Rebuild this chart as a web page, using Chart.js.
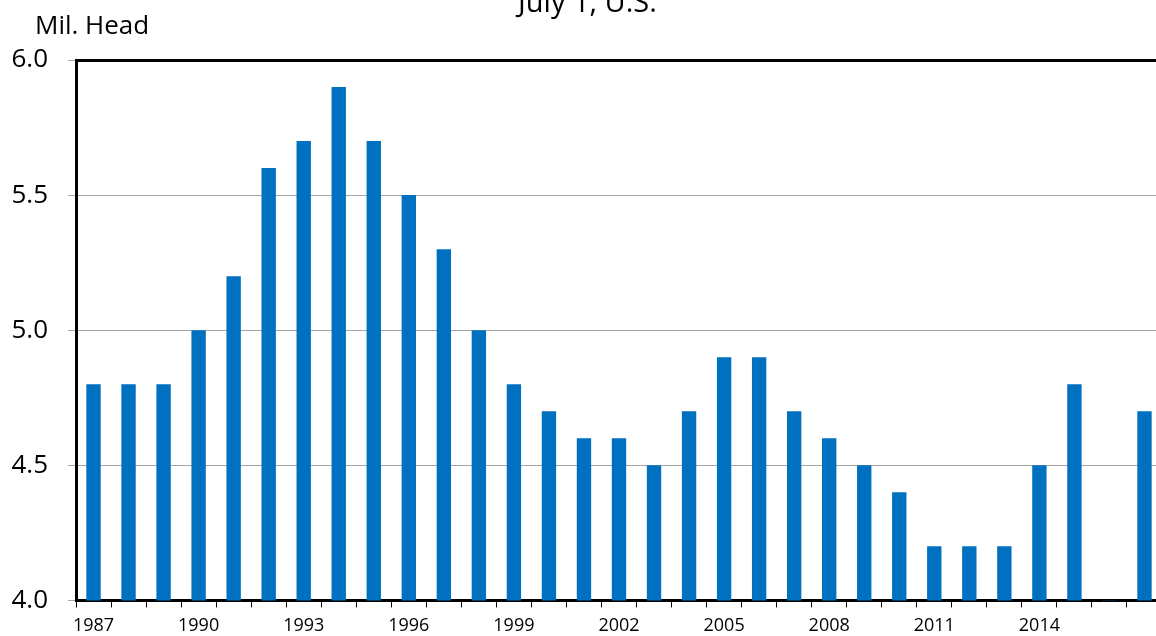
<!DOCTYPE html>
<html>
<head>
<meta charset="utf-8">
<script src="https://cdn.jsdelivr.net/npm/chart.js@4/dist/chart.umd.min.js"></script>
<style>
    html, body { margin: 0; padding: 0; background: #fff; overflow: hidden; }
    #wrap { position: relative; width: 1156px; height: 636px; overflow: hidden; }
    #box { position: absolute; left: 0; top: 0; width: 1172px; height: 636px; }
    .txt { position: absolute; font-family: 'Open Sans', sans-serif; color: #000; white-space: nowrap; line-height: normal; }
    #title { top: -19px; left: 518px; font-size: 29px; }
    #unit { top: 6px; left: 35px; font-size: 26px; }
</style>
</head>
<body>
<div id="wrap">
    <div id="box"><canvas id="chart"></canvas></div>
    <div class="txt" id="title">July 1, U.S.</div>
    <div class="txt" id="unit">Mil. Head</div>
</div>
<script>
// 연도 (1987 ~ 2017)
var years = ['1987','1988','1989','1990','1991','1992','1993','1994','1995','1996',
             '1997','1998','1999','2000','2001','2002','2003','2004','2005','2006',
             '2007','2008','2009','2010','2011','2012','2013','2014','2015','2016','2017'];

// 두수 (백만 두), 2016 은 그림에 막대 없음
var headCount = [4.8, 4.8, 4.8, 5.0, 5.2, 5.6, 5.7, 5.9, 5.7, 5.5,
                 5.3, 5.0, 4.8, 4.7, 4.6, 4.6, 4.5, 4.7, 4.9, 4.9,
                 4.7, 4.6, 4.5, 4.4, 4.2, 4.2, 4.2, 4.5, 4.8, 4.0, 4.7];

// y축 눈금
var yMin = 4.0, yMax = 6.0, yStep = 0.5;

(function(){
    Chart.defaults.font.family = "'Open Sans', sans-serif";
    Chart.defaults.color = '#000';

    var ctx = document.getElementById('chart').getContext('2d');

    new Chart(ctx, {
        type: 'bar',
        data: {
            labels: years,
            datasets: [{
                data: headCount,
                backgroundColor: '#0070C0',
                borderWidth: 0,
                barPercentage: 0.41,
                categoryPercentage: 1.0
            }]
        },
        options: {
            responsive: true,
            maintainAspectRatio: false,
            animation: false,
            layout: { padding: { top: 60, right: 10, left: 0, bottom: 0 } },
            plugins: {
                legend: { display: false },
                tooltip: { enabled: false }
            },
            scales: {
                x: {
                    offset: true,
                    afterFit: function(scale){ scale.height = 34; },
                    border: { color: '#000', width: 3 },
                    grid: {
                        offset: true,
                        drawOnChartArea: false,
                        drawTicks: true,
                        tickLength: 7,
                        tickColor: '#000',
                        tickWidth: 1
                    },
                    ticks: {
                        autoSkip: false,
                        maxRotation: 0,
                        padding: 8,
                        font: { size: 18 },
                        callback: function(val, idx){
                            var y = parseInt(years[idx], 10);
                            // 3년 간격, 2017 은 잘려서 안 보임
                            return ((y - 1987) % 3 === 0 && y <= 2014) ? years[idx] : '';
                        }
                    }
                },
                y: {
                    min: yMin,
                    max: yMax,
                    afterFit: function(scale){ scale.width = 76; },
                    border: { color: '#000', width: 3 },
                    grid: {
                        color: function(c){ return c.tick && c.tick.value === yMax ? '#000' : '#A6A6A6'; },
                        lineWidth: function(c){ return c.tick && c.tick.value === yMax ? 3 : 1; },
                        tickColor: '#A6A6A6',
                        tickWidth: 1,
                        tickLength: 8
                    },
                    ticks: {
                        stepSize: yStep,
                        padding: 20,
                        font: { size: 26 },
                        callback: function(v){ return v.toFixed(1); }
                    }
                }
            }
        }
    });
})();
</script>
</body>
</html>
